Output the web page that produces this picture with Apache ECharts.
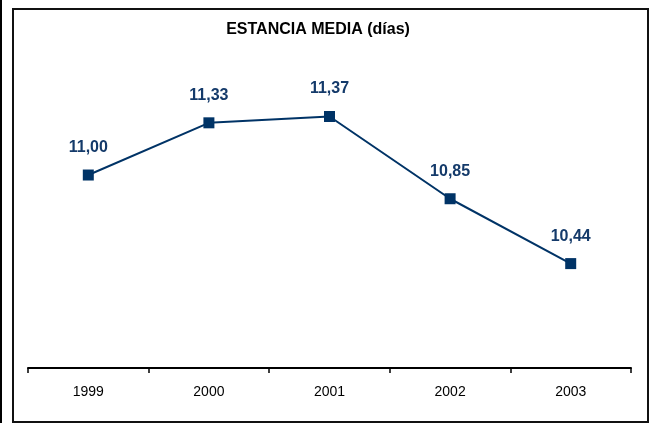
<!DOCTYPE html>
<html>
<head>
<meta charset="utf-8">
<script src="https://cdn.jsdelivr.net/npm/echarts@6/dist/echarts.min.js"></script>
<style>
html,body{margin:0;padding:0;background:#fff;}
#c{width:654px;height:423px;}
</style>
</head>
<body>
<div id="c"></div>
<script>
const titleText = 'ESTANCIA MEDIA (días)';
const years = ['1999', '2000', '2001', '2002', '2003'];
const estancia = [11.00, 11.33, 11.37, 10.85, 10.44];

const chart = echarts.init(document.getElementById('c'), null, {renderer: 'canvas'});
chart.setOption({
  animation: false,
  backgroundColor: '#ffffff',
  title: {
    text: titleText,
    left: 313,
    textAlign: 'center',
    top: 17,
    textStyle: {fontFamily: 'Liberation Sans, Arial', fontWeight: 'bold', fontSize: 16, color: '#000'}
  },
  graphic: [
    {type: 'rect', shape: {x: 0, y: 0, width: 2, height: 423}, style: {fill: '#000'}},
    {type: 'rect', shape: {x: 13, y: 9, width: 635, height: 413}, style: {fill: 'none', stroke: '#111', lineWidth: 2}}
  ],
  grid: {left: 28, right: 23, top: 20, bottom: 55},
  xAxis: {
    type: 'category',
    data: years,
    boundaryGap: true,
    axisLine: {lineStyle: {color: '#000', width: 2}},
    axisTick: {show: true, length: 5, lineStyle: {color: '#000', width: 1.5}},
    axisLabel: {fontFamily: 'Liberation Sans, Arial', fontSize: 14, color: '#000', margin: 17}
  },
  yAxis: {
    type: 'value',
    min: 9.78,
    max: 11.98,
    show: false,
    splitLine: {show: false}
  },
  series: [{
    type: 'line',
    data: estancia,
    symbol: 'rect',
    symbolSize: 11,
    itemStyle: {color: '#003366'},
    lineStyle: {color: '#003366', width: 2},
    label: {
      show: true,
      position: 'top',
      distance: 14,
      fontFamily: 'Liberation Sans, Arial',
      fontWeight: 'bold',
      fontSize: 16,
      color: '#143a6a',
      formatter: p => p.value.toFixed(2).replace('.', ',')
    }
  }]
});
</script>
</body>
</html>
